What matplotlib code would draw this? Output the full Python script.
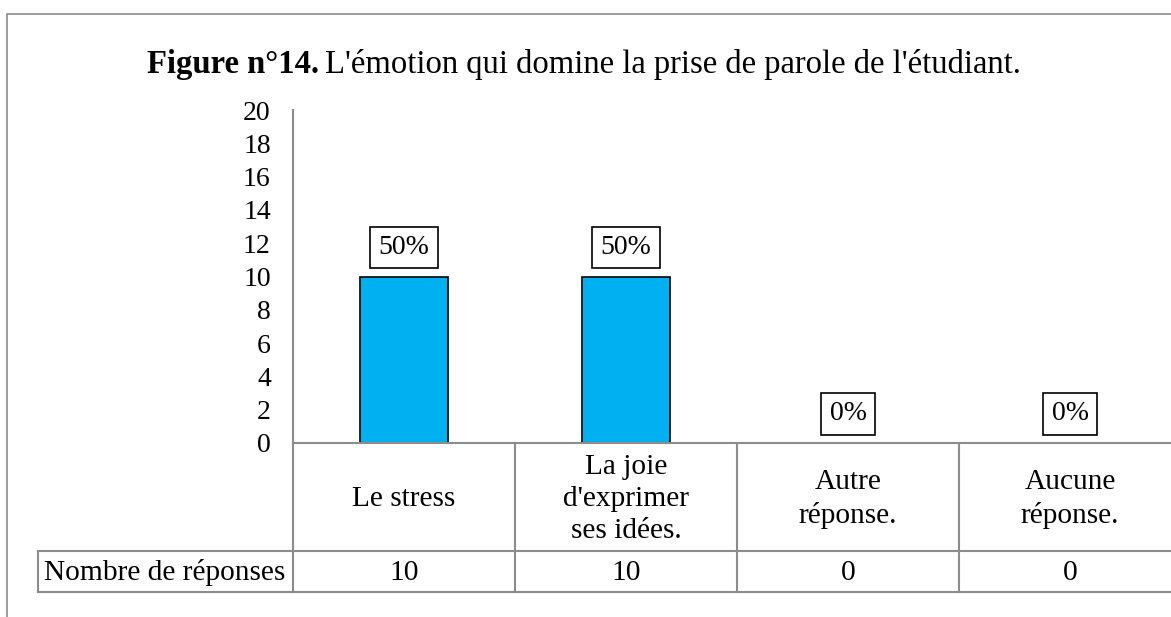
import matplotlib
matplotlib.use('Agg')
import matplotlib.pyplot as plt
import matplotlib.patches as patches
import matplotlib.transforms as mtransforms

# data
categories = ['Le stress', "La joie\nd'exprimer\nses idées.", 'Autre\nréponse.', 'Aucune\nréponse.']
responses = [10, 10, 0, 0]
percent_labels = ['50%', '50%', '0%', '0%']
row_label = 'Nombre de réponses'
yticks = list(range(0, 21, 2))

W, H = 1171, 617
plt.rcParams['font.family'] = ['Liberation Serif', 'DejaVu Serif']
fs = 20        # ticks, data labels
fs_tab = 21.2  # table text
fs_title = 23.5
grid_col = '#8c8c8c'

fig = plt.figure(figsize=(W / 100, H / 100), dpi=100)

def px_x(x):
    return x / W

def px_y(y):
    return 1 - y / H

# axes: left 293 px, 0 at 443 px, 20 at 110 px, 4 columns of 222 px
ax = fig.add_axes([px_x(293), px_y(443), 888 / W, (443 - 110) / H])
ax.bar(range(len(responses)), responses, width=0.4, color='#00B0F0',
       edgecolor='black', linewidth=1.2, zorder=3)
ax.set_xlim(-0.5, len(responses) - 0.5)
ax.set_ylim(0, 20)
ax.set_yticks(yticks)
ax.set_xticks([])
ax.tick_params(axis='y', length=0, pad=16, labelsize=fs)
for s in ['top', 'right', 'bottom']:
    ax.spines[s].set_visible(False)
ax.spines['left'].set_color(grid_col)
ax.spines['left'].set_linewidth(1.5)

# percentage labels in boxes
for i, (v, lab) in enumerate(zip(responses, percent_labels)):
    ax.annotate(lab, (i, v), xytext=(0, 29), textcoords='offset pixels',
                ha='center', va='center', fontsize=fs, zorder=4,
                bbox=dict(boxstyle='square,pad=0.3', fc='white', ec='black', lw=1.2))

# data table under the axis (pixel based y positions)
def ay(ypx):
    return (443 - ypx) / (443 - 110)

row_top = 443
row_mid = 551
row_bot = 592
trans = mtransforms.blended_transform_factory(ax.transData, ax.transAxes)
n = len(categories)
lkw = dict(color=grid_col, lw=1.5, clip_on=False, zorder=5)
# horizontal lines
ax.plot([-0.5, n - 0.5], [0, 0], transform=trans, **lkw)
ax.plot([-0.5, n - 0.5], [ay(row_mid)] * 2, transform=trans, **lkw)
ax.plot([-0.5, n - 0.5], [ay(row_bot)] * 2, transform=trans, **lkw)
# vertical lines
for k in range(n + 1):
    ax.plot([k - 0.5, k - 0.5], [0, ay(row_bot)], transform=trans, **lkw)
# row label cell
ax.plot([px_x(38), px_x(293)], [px_y(row_mid)] * 2, transform=fig.transFigure, **lkw)
ax.plot([px_x(38), px_x(293)], [px_y(row_bot)] * 2, transform=fig.transFigure, **lkw)
ax.plot([px_x(38), px_x(38)], [px_y(row_mid), px_y(row_bot)], transform=fig.transFigure, **lkw)

for i, (cat, v) in enumerate(zip(categories, responses)):
    ax.text(i, ay(499), cat, transform=trans, ha='center', va='center',
            fontsize=fs_tab, linespacing=1.29, multialignment='center')
    ax.text(i, ay((row_mid + row_bot) / 2 + 1), str(v), transform=trans, ha='center',
            va='center', fontsize=fs_tab)
fig.text(px_x(165), px_y((row_mid + row_bot) / 2 + 1), row_label, ha='center', va='center',
         fontsize=fs_tab)

# title: bold part + normal part on one baseline
t1 = fig.text(px_x(147), px_y(73), 'Figure n°14.', fontsize=fs_title, weight='bold',
              ha='left', va='baseline')
fig.canvas.draw()
bb = t1.get_window_extent()
fig.text(bb.x1 / W + 6 / W, px_y(73), "L'émotion qui domine la prise de parole de l'étudiant.",
         fontsize=fs_title, ha='left', va='baseline')

# outer frame of the chart area
fig.patches.append(patches.Rectangle((px_x(7), -0.2), 1.2, px_y(14) + 0.2,
                                     transform=fig.transFigure, fill=False,
                                     ec='#8c8c8c', lw=1.2))

fig.savefig('out.png', dpi=100)
